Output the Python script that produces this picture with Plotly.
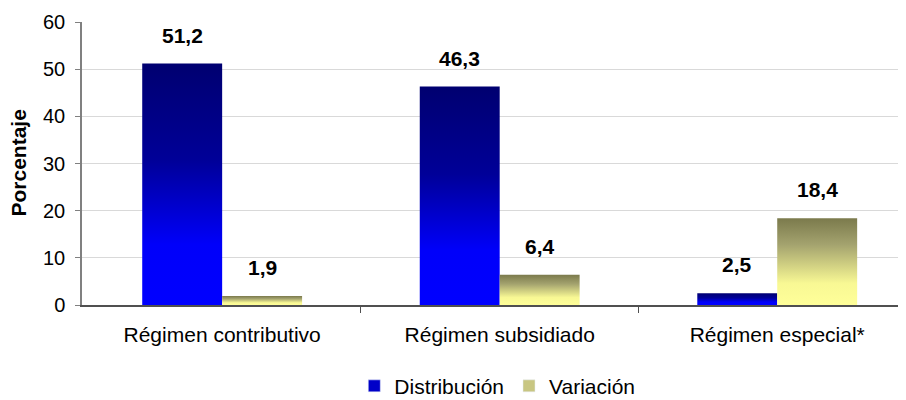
import plotly.graph_objects as go

categories = ["Régimen contributivo", "Régimen subsidiado", "Régimen especial*"]
distribucion = [51.2, 46.3, 2.5]
variacion = [1.9, 6.4, 18.4]
series_names = ["Distribución", "Variación"]
y_ticks = [0, 10, 20, 30, 40, 50, 60]

FONT = "Liberation Sans, Arial, sans-serif"
BAR_W = 0.288

blue_scale = [[0, "#0000FF"], [0.25, "#0000FA"], [0.6, "#000098"], [1, "#000070"]]
yellow_scale = [[0, "#FFFF99"], [0.25, "#F8F894"], [0.7, "#A3A26E"], [1, "#7B7A4C"]]
legend_colors = ["#0000C8", "#C8C682"]

fig = go.Figure()

def fmt(v):
    return f"{v:.1f}".replace(".", ",")

for s, (vals, scale, offset) in enumerate([(distribucion, blue_scale, -1), (variacion, yellow_scale, 0)]):
    for i, v in enumerate(vals):
        x0 = i + offset * BAR_W if offset < 0 else i
        x1 = x0 + BAR_W
        fig.add_trace(go.Scatter(
            x=[x0, x1, x1, x0, x0], y=[0, 0, v, v, 0],
            mode="lines", line=dict(width=0), fill="toself",
            fillgradient=dict(type="vertical", colorscale=scale),
            showlegend=False, hoverinfo="skip"))
        fig.add_annotation(x=(x0 + x1) / 2, y=v, xref="x", yref="y",
                           text=fmt(v), showarrow=False, yanchor="bottom", yshift=15,
                           font=dict(family=FONT, size=21, color="black", weight="bold"))

for name, col in zip(series_names, legend_colors):
    fig.add_trace(go.Bar(x=[None], y=[None], name=name, marker=dict(color=col)))

fig.add_annotation(xref="paper", yref="paper", x=0, y=0.5, xshift=-64,
                   xanchor="center", yanchor="middle",
                   text="Porcentaje", textangle=-90, showarrow=False,
                   font=dict(family=FONT, size=21, color="black", weight="bold"))

fig.update_layout(
    width=898, height=392,
    margin=dict(l=74, r=0, t=14, b=95, autoexpand=False),
    paper_bgcolor="white", plot_bgcolor="white",
    font=dict(family=FONT, size=20, color="black"),
    showlegend=True,
    legend=dict(orientation="h", x=0.504, xanchor="center",
                yref="paper", y=-0.287, yanchor="middle",
                font=dict(family=FONT, size=21, color="black"),
                itemwidth=30, traceorder="normal"),
    xaxis=dict(range=[-0.505, 2.464], tickvals=[0, 1, 2], ticktext=categories,
               ticks="", showgrid=False, zeroline=False, automargin=False,
               showline=True, linecolor="#505050", linewidth=1.5,
               ticklabelstandoff=10,
               tickfont=dict(family=FONT, size=21, color="black"),
               minor=dict(tickvals=[0.5, 1.5], ticks="outside", ticklen=6,
                          tickcolor="#505050", showgrid=False)),
    yaxis=dict(range=[0, 60], tickvals=y_ticks, ticks="outside", ticklen=5,
               tickcolor="#808080", showline=True, linecolor="#808080", linewidth=1.5,
               showgrid=True, gridcolor="#D9D9D9", gridwidth=1.2, zeroline=False,
               ticklabelstandoff=6, automargin=False,
               tickfont=dict(family=FONT, size=20, color="black")),
)

fig.write_html("out.html")
